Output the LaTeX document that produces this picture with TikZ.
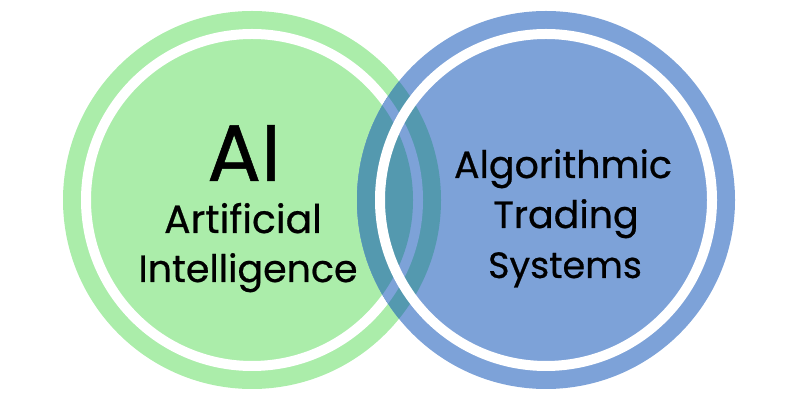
\documentclass[tikz,border=0pt]{standalone}
\usepackage{fontspec}
\newfontfamily\labelfont[FakeBold=0.6]{Poppins}
\definecolor{aigreen}{HTML}{ABEDAA}
\definecolor{algoblue}{HTML}{7DA2D8}
\definecolor{mixteal}{HTML}{5499AF}
\tikzset{
	bigtext/.style={anchor=base, inner sep=0pt, font=\labelfont\fontsize{57}{60}\selectfont},
	circletext/.style={anchor=base, inner sep=0pt, font=\labelfont\fontsize{27}{32}\selectfont},
	whitering/.style={fill=white, even odd rule}
}

\begin{document}
\begin{tikzpicture}[x=0.025cm, y=0.025cm]
	\useasboundingbox (0,0) rectangle (800,400);
	\coordinate (ai) at (252,200);
	\coordinate (algo) at (546,200);
	% left circle
	\fill[aigreen] (ai) circle [radius=189];
	\path[whitering] (ai) circle [radius=171] (ai) circle [radius=161];
	% right circle
	\fill[algoblue] (algo) circle [radius=189];
	% overlap
	\begin{scope}
		\clip (algo) circle [radius=189];
		\fill[mixteal] (ai) circle [radius=189];
		\fill[algoblue] (ai) circle [radius=171];
		\fill[mixteal] (ai) circle [radius=161];
	\end{scope}
	\path[whitering] (algo) circle [radius=171] (algo) circle [radius=161];
	% labels
	\node[bigtext] (aititle) at (244,219) {AI};
	\node[circletext, font=\labelfont\fontsize{28}{32}\selectfont] (artificial) at (243,167) {Artificial};
	\node[circletext] (intelligence) at (248,118) {Intelligence};
	\node[circletext] (algorithmic) at (563,222) {Algorithmic};
	\node[circletext] (trading) at (566,172) {Trading};
	\node[circletext, font=\labelfont\fontsize{26}{32}\selectfont] (systems) at (565,122) {Systems};
\end{tikzpicture}
\end{document}
